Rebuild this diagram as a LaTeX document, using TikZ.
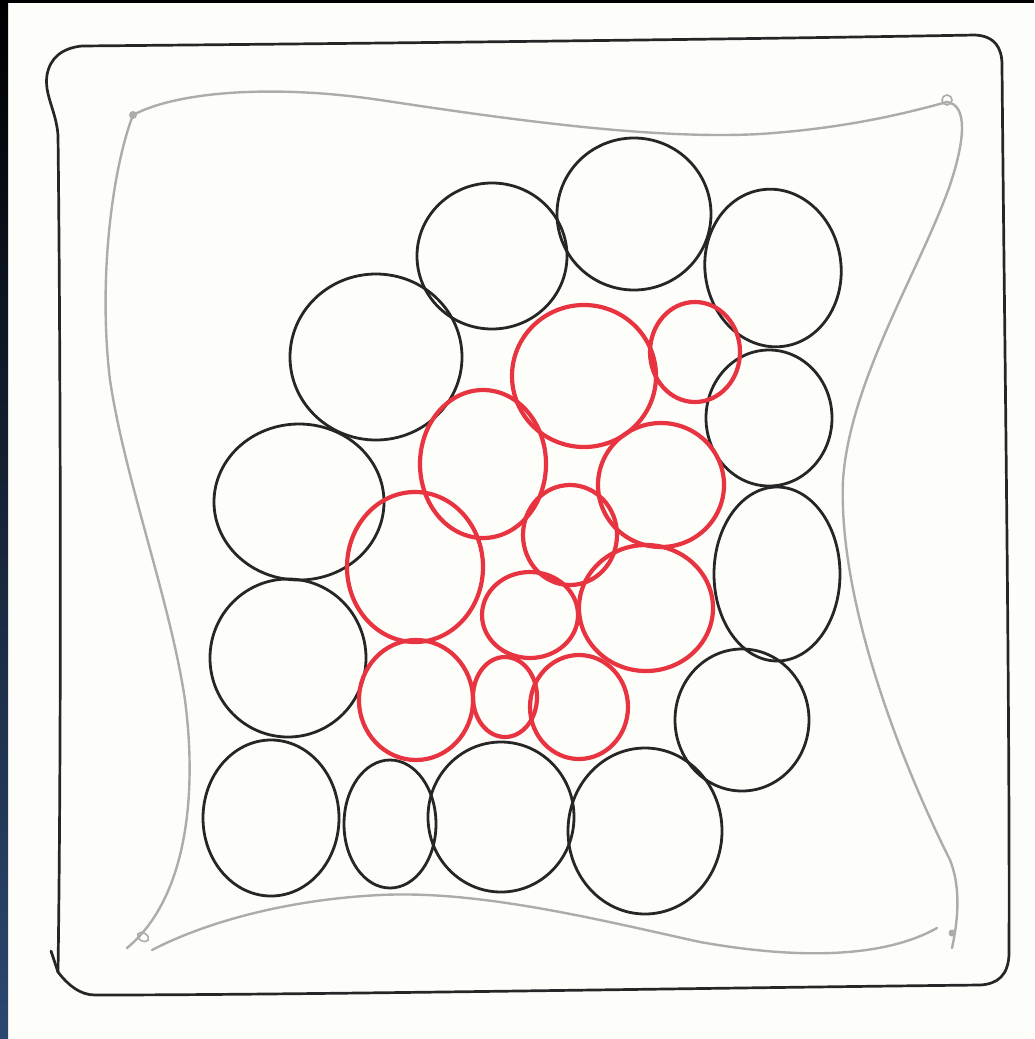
\documentclass[tikz,border=0pt]{standalone}
\usetikzlibrary{shadings}
\definecolor{paper}{RGB}{253,253,249}
\definecolor{inkblack}{RGB}{38,38,38}
\definecolor{inkred}{RGB}{232,52,64}
\definecolor{pencil}{RGB}{172,172,168}
\definecolor{scanedge}{RGB}{44,72,112}
\begin{document}
\begin{tikzpicture}[x=1pt,y=-1pt,
  frame/.style={draw=inkblack,line width=2.7pt,line join=round,line cap=round},
  wire/.style={draw=pencil,line width=2.4pt,line cap=round},
  bead/.style={draw=pencil,line width=1.6pt},
  cellblack/.style={draw=inkblack,line width=2.8pt},
  cellred/.style={draw=inkred,line width=4.2pt}]
\useasboundingbox (0,0) rectangle (1034,1039);
\fill[paper] (0,0) rectangle (1034,1039);
% scan edges
\shade[top color=black,bottom color=scanedge] (0,0) rectangle (8,1039);
\fill[black] (0,0) rectangle (1034,3);

% outer frame
\draw[frame]
(82,46) .. controls (300,44) and (700,40) .. (975,35)
.. controls (995,36) and (1002,48) .. (1002,65)
.. controls (1004,300) and (1010,700) .. (1009,955)
.. controls (1008,975) and (998,984) .. (980,985)
.. controls (700,988) and (300,995) .. (95,995)
.. controls (80,995) and (68,985) .. (58,972)
.. controls (62,700) and (60,300) .. (58,135)
.. controls (56,110) and (44,95) .. (47,75)
.. controls (50,58) and (62,48) .. (82,46);
\draw[frame] (51,951) -- (58,972);

% pencil string
\draw[wire]
(133,115) .. controls (180,90) and (280,85) .. (380,100)
.. controls (500,118) and (650,140) .. (760,134)
.. controls (850,128) and (910,112) .. (947,102);
\draw[wire]
(947,102) .. controls (968,105) and (965,140) .. (950,185)
.. controls (920,270) and (850,380) .. (843,480)
.. controls (838,600) and (900,760) .. (950,860)
.. controls (962,890) and (957,925) .. (952,948);
\draw[wire]
(937,928) .. controls (880,960) and (790,958) .. (700,942)
.. controls (600,920) and (480,890) .. (380,895)
.. controls (280,900) and (200,925) .. (152,950);
\draw[wire]
(133,115) .. controls (112,170) and (98,280) .. (110,380)
.. controls (125,480) and (170,600) .. (185,700)
.. controls (198,800) and (185,900) .. (127,948);
\draw[bead] (947,100) circle (5);
\draw[bead] (143,937) ellipse [x radius=6,y radius=4,rotate=-30];
\fill[pencil] (133,115) circle (4);
\fill[pencil] (952,933) circle (3.5);

% outer black cells
\draw[cellblack] (492,256) ellipse [x radius=75,y radius=73];
\draw[cellblack] (634,214) ellipse [x radius=77,y radius=76];
\draw[cellblack] (773,268) ellipse [x radius=68,y radius=79,rotate=8];
\draw[cellblack] (376,357) ellipse [x radius=86,y radius=83];
\draw[cellblack] (769,418) ellipse [x radius=63,y radius=68];
\draw[cellblack] (299,502) ellipse [x radius=85,y radius=78];
\draw[cellblack] (777,574) ellipse [x radius=63,y radius=87];
\draw[cellblack] (288,658) ellipse [x radius=78,y radius=79];
\draw[cellblack] (742,720) ellipse [x radius=67,y radius=71];
\draw[cellblack] (271,818) ellipse [x radius=68,y radius=78];
\draw[cellblack] (390,824) ellipse [x radius=46,y radius=64];
\draw[cellblack] (501,817) ellipse [x radius=73,y radius=75];
\draw[cellblack] (645,831) ellipse [x radius=77,y radius=83];

% inner red cells
\draw[cellred] (584,376) ellipse [x radius=72,y radius=71];
\draw[cellred] (695,352) ellipse [x radius=45,y radius=50];
\draw[cellred] (483,464) ellipse [x radius=63,y radius=74];
\draw[cellred] (661,485) ellipse [x radius=63,y radius=62];
\draw[cellred] (570,535) ellipse [x radius=47,y radius=50];
\draw[cellred] (415,567) ellipse [x radius=68,y radius=75];
\draw[cellred] (530,615) ellipse [x radius=48,y radius=43];
\draw[cellred] (646,608) ellipse [x radius=67,y radius=63];
\draw[cellred] (416,700) ellipse [x radius=57,y radius=60];
\draw[cellred] (505,697) ellipse [x radius=32,y radius=40];
\draw[cellred] (579,707) ellipse [x radius=49,y radius=52];
\end{tikzpicture}
\end{document}
